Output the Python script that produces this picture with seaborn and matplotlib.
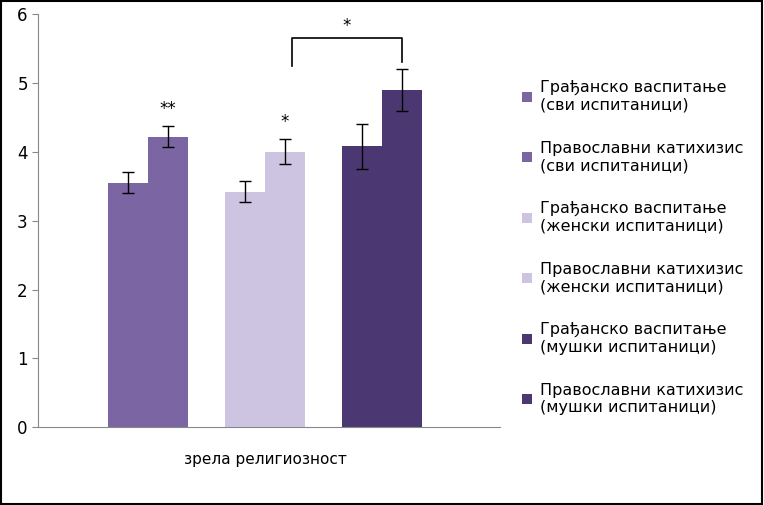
import matplotlib.pyplot as plt
import matplotlib.patches as mpatches
import pandas as pd
import seaborn as sns

groups = ["сви", "женски", "мушки"]
subjects = ["Грађанско васпитање", "Православни катихизис"]
means = [3.55, 4.22, 3.42, 4.00, 4.08, 4.90]
errors = [0.15, 0.15, 0.15, 0.18, 0.33, 0.30]
legend_labels = [
    "Грађанско васпитање\n(сви испитаници)",
    "Православни катихизис\n(сви испитаници)",
    "Грађанско васпитање\n(женски испитаници)",
    "Православни катихизис\n(женски испитаници)",
    "Грађанско васпитање\n(мушки испитаници)",
    "Православни катихизис\n(мушки испитаници)",
]
colors = ["#7b66a3", "#7b66a3", "#cdc4e2", "#cdc4e2", "#4b3872", "#4b3872"]
stars = ["", "**", "", "*", "", ""]

rows = []
for i, m in enumerate(means):
    rows.append({"group": groups[i // 2], "subject": subjects[i % 2], "mean": m})
df = pd.DataFrame(rows)

plt.rcParams["font.family"] = "DejaVu Sans"
fig = plt.figure(figsize=(7.64, 5.05), dpi=100)
ax = fig.add_axes([0.05, 0.154, 0.605, 0.818])

sns.barplot(data=df, x="group", y="mean", hue="subject", order=groups,
            hue_order=subjects, width=0.68, ax=ax, legend=False,
            edgecolor="none", errorbar=None)

# color each bar and add error bars / stars
patches = sorted(ax.patches, key=lambda p: p.get_x())
for i, p in enumerate(patches):
    p.set_facecolor(colors[i])
    cx = p.get_x() + p.get_width() / 2
    ax.errorbar(cx, means[i], yerr=errors[i], color="black", capsize=4, lw=1)
    if stars[i]:
        ax.text(cx, means[i] + errors[i] + 0.18, stars[i], ha="center", fontsize=12)

# bracket between the female and male groups
x1 = patches[4].get_x() - 0.43
x2 = patches[5].get_x() + patches[5].get_width() / 2
ax.plot([x1, x1, x2, x2], [5.25, 5.65, 5.65, 5.3], color="black", lw=1.2)
ax.text((x1 + x2) / 2, 5.75, "*", ha="center", fontsize=12)

ax.set_xlim(-0.94, 3.01)
ax.set_ylim(0, 6)
ax.set_yticks(range(7))
ax.set_xticks([1])
ax.set_xticklabels(["зрела религиозност"], fontsize=11)
ax.tick_params(axis="x", length=0, pad=18)
ax.tick_params(axis="y", labelsize=12, length=4, color="#888888")
ax.set_xlabel("")
ax.set_ylabel("")
for s in ["top", "right"]:
    ax.spines[s].set_visible(False)
for s in ["left", "bottom"]:
    ax.spines[s].set_color("#888888")

handles = [mpatches.Patch(facecolor=c, label=l) for c, l in zip(colors, legend_labels)]
fig.legend(handles=handles, loc="upper left", bbox_to_anchor=(0.665, 0.87),
           frameon=False, fontsize=11.5, labelspacing=1.75, handlelength=0.6,
           handleheight=0.6, handletextpad=0.5)

fig.patches.append(mpatches.Rectangle((0.001, 0.002), 0.997, 0.996, transform=fig.transFigure,
                                      fill=False, edgecolor="black", lw=1.5))
fig.savefig("out.png", dpi=100)
